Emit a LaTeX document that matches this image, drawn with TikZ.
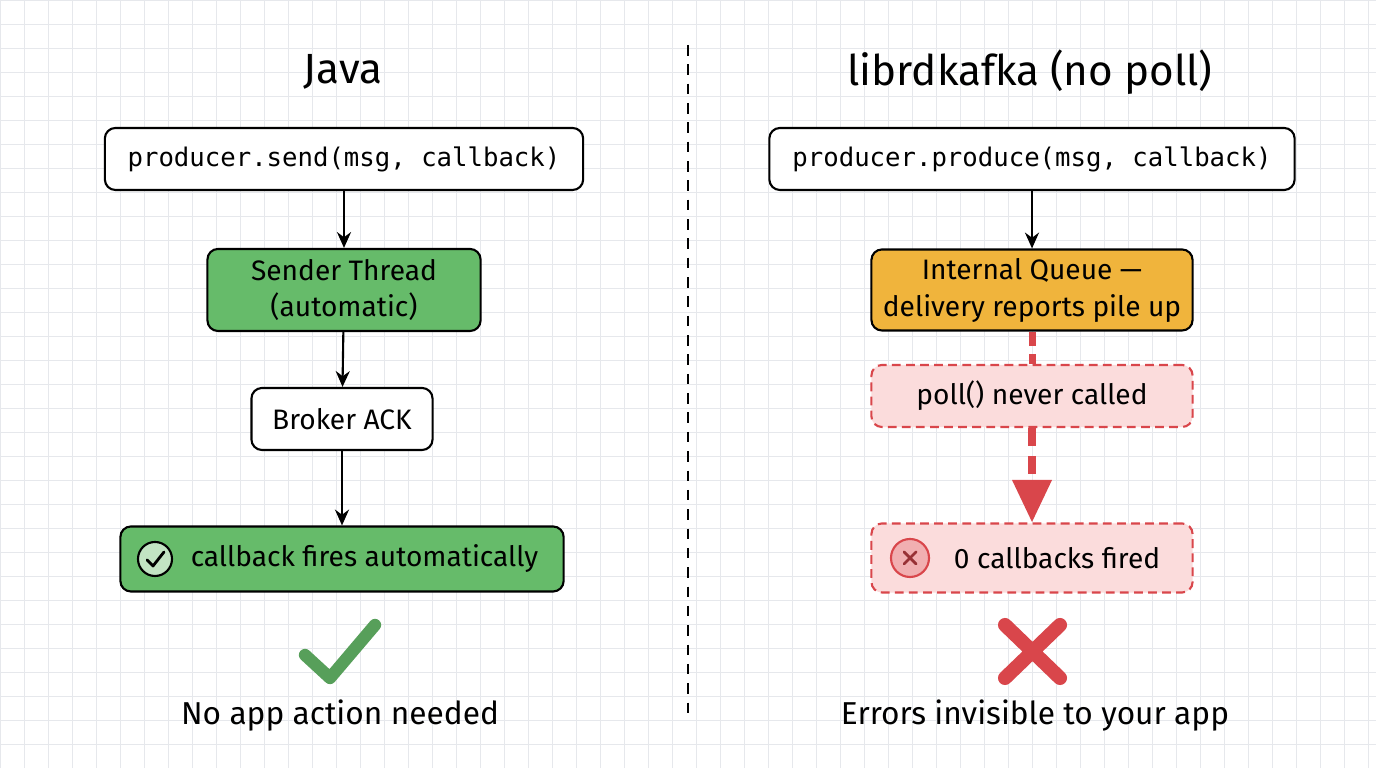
\documentclass[tikz,border=0pt]{standalone}
\usepackage{fontspec}
\setmainfont{Fira Sans}
\setmonofont{DejaVu Sans Mono}
\usetikzlibrary{positioning,arrows.meta}
\definecolor{okgreen}{HTML}{66BB6A}
\definecolor{queueorange}{HTML}{F0B43C}
\definecolor{errred}{HTML}{D9464B}
\definecolor{errpink}{HTML}{FBDCDC}
\definecolor{gridgray}{HTML}{E6E8EC}
\tikzset{
  box/.style={draw=black, semithick, rounded corners=3pt, align=center, inner sep=0pt},
  codebox/.style={box, fill=white, font=\ttfamily\fontsize{7.3}{9}\selectfont},
  okbox/.style={box, fill=okgreen, font=\fontsize{8}{10.5}\selectfont},
  errbox/.style={draw=errred, semithick, dash pattern=on 2.5pt off 1.5pt, fill=errpink, rounded corners=3pt,
    align=center, inner sep=0pt, font=\fontsize{8}{10.5}\selectfont},
  flow/.style={-{Stealth[length=4.5pt,width=4pt]}, semithick},
  title/.style={font=\fontsize{12}{14}\selectfont},
  caption/.style={font=\fontsize{9}{11}\selectfont}
}
\begin{document}
\begin{tikzpicture}[x=0.01cm, y=-0.01cm]
  \useasboundingbox (0,0) rectangle (1376,768);
  \fill[white!97!blue!2] (0,0) rectangle (1376,768);
  \draw[gridgray, very thin, step=0.24cm] (0,0) grid (1376,768);
  \draw[semithick, dash pattern=on 3pt off 2.5pt] (688,45) -- (688,715);

  % Java
  \node[title] (javaTitle) at (343,72) {Java};
  \node[codebox, minimum width=4.78cm, minimum height=0.62cm] (send) at (344,159) {producer.send(msg, callback)};
  \node[okbox, minimum width=2.73cm, minimum height=0.82cm] (sender) at (344,290) {Sender Thread\\(automatic)};
  \node[box, fill=white, font=\fontsize{8}{10.5}\selectfont, minimum width=1.81cm, minimum height=0.62cm] (ack) at (342,419) {Broker ACK};
  \node[okbox, minimum width=4.43cm, minimum height=0.65cm] (fires) at (342,559) {\hspace{0.45cm}callback fires automatically};
  \draw[semithick, fill=white!60!okgreen] (155,559) circle (0.17cm);
  \draw[thick, line cap=round, line join=round] (147,560) -- (153,566) -- (164,552);
  \draw[flow] (send) -- (sender);
  \draw[flow] (sender) -- (ack);
  \draw[flow] (ack) -- (fires);
  \draw[okgreen!85!black, line width=3.5pt, line cap=round, line join=round] (305,655) -- (330,678) -- (375,625);
  \node[caption] (javaNote) at (340,716) {No app action needed};

  % librdkafka
  \node[title] (cTitle) at (1030,72) {librdkafka (no poll)};
  \node[codebox, minimum width=5.25cm, minimum height=0.62cm] (produce) at (1032,159) {producer.produce(msg, callback)};
  \node[box, fill=queueorange, font=\fontsize{8}{10.5}\selectfont, minimum width=3.21cm, minimum height=0.81cm] (queue) at (1032,290) {Internal Queue —\\delivery reports pile up};
  \node[errbox, minimum width=3.21cm, minimum height=0.62cm] (poll) at (1032,396) {poll() never called};
  \node[errbox, minimum width=3.21cm, minimum height=0.69cm] (zero) at (1032,558) {\hspace{0.5cm}0 callbacks fired};
  \draw[errred, semithick, fill=errpink!70!errred] (910,558) circle (0.19cm);
  \draw[errred!70!black, thick, line cap=round] (904,552) -- (916,564) (916,552) -- (904,564);
  \draw[flow] (produce) -- (queue);
  \draw[errred, line width=2pt, dash pattern=on 4pt off 2.5pt] (queue) -- (poll);
  \draw[errred, line width=2.5pt, dash pattern=on 5pt off 3pt] (poll.south) -- (1032,485);
  \fill[errred] (1012,480) -- (1052,480) -- (1032,522) -- cycle;
  \draw[errred, line width=4pt, line cap=round] (1005,625) -- (1060,678) (1060,625) -- (1005,678);
  \node[caption] (cNote) at (1035,716) {Errors invisible to your app};
\end{tikzpicture}
\end{document}
